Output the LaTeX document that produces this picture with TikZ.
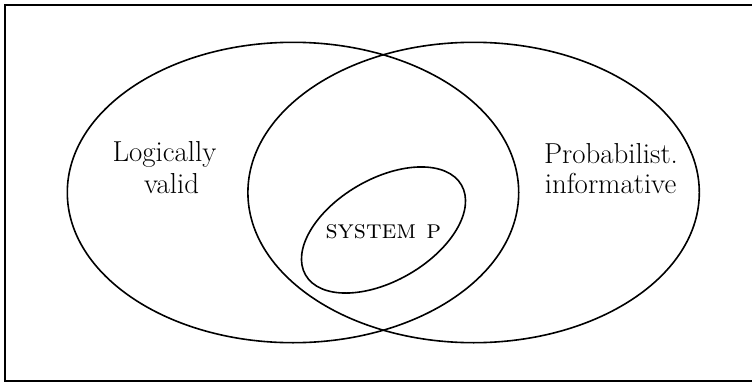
\documentclass[tikz,border=0pt]{standalone}
\begin{document}
\begin{tikzpicture}[x=1bp,y=1bp,
  setline/.style={line width=1.6bp},
  lbl/.style={anchor=base,inner sep=0pt,font=\fontsize{29}{34}\selectfont},
  sclbl/.style={anchor=base,inner sep=0pt,font=\fontsize{26.6}{32}\selectfont}]
\useasboundingbox (0,0) rectangle (752,383);
\draw[line width=1.5bp] (5,2) rectangle (760,378);
\draw[setline] (293,190.5) ellipse [x radius=225.7, y radius=150.2];
\draw[setline] (473.6,190.5) ellipse [x radius=225.7, y radius=150.2];
\draw[setline, rotate around={30:(383.5,153)}] (383.5,153) ellipse [x radius=90, y radius=51];
\node[lbl] (l1) at (164.5,221.3) {Logically};
\node[lbl] (l2) at (171.5,189.7) {valid};
\node[lbl] (r1) at (611,220) {Probabilist.};
\node[lbl] (r2) at (610.5,190) {informative};
\node[sclbl] (sp) at (383.3,145) {\textsc{system p}};
\end{tikzpicture}
\end{document}
